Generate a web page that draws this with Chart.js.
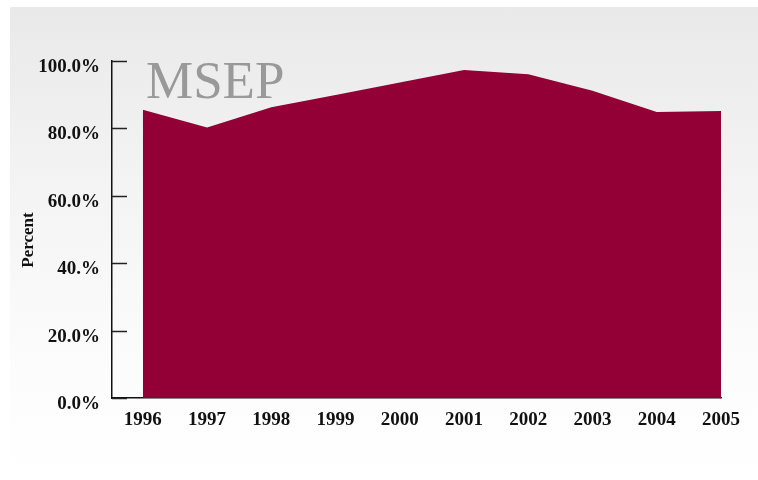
<!DOCTYPE html>
<html>
<head>
<meta charset="utf-8">
<title>MSEP</title>
<script src="https://cdn.jsdelivr.net/npm/chart.js@4/dist/chart.umd.min.js"></script>
<style>
  html, body { margin: 0; padding: 0; background: #fff; }
  #wrap {
    position: relative;
    width: 758px;
    height: 480px;
  }
  #panel {
    position: absolute;
    left: 10px;
    top: 7px;
    right: 0;
    bottom: 0;
    background: linear-gradient(to bottom, #e9e9e9 0%, #f3f3f3 35%, #fcfcfc 75%, #ffffff 100%);
  }
  canvas { position: absolute; left: 0; top: 0; }
</style>
</head>
<body>
<div id="wrap">
  <div id="panel"></div>
  <canvas id="msepChart" width="758" height="480"></canvas>
</div>
<script>
// Yearly percentages for the filled area
let years = [1996, 1997, 1998, 1999, 2000, 2001, 2002, 2003, 2004, 2005];
let percent = [85.5, 80.3, 86.3, 89.9, 93.6, 97.3, 96.1, 91.2, 84.9, 85.2];
let yTicks = [0, 20, 40, 60, 80, 100];
let yTickLabels = ['0.0%', '20.0%', '40.%', '60.0%', '80.0%', '100.0%'];

Chart.defaults.font.family = '"Liberation Serif", "Times New Roman", serif';
Chart.defaults.font.weight = 'bold';
Chart.defaults.font.size = 19;
Chart.defaults.color = '#111';

// Short tick marks pointing into the plot, the big MSEP label and the axis title
const decorations = {
    id: 'decorations',
    afterDraw(chart) {
        const ctx = chart.ctx;
        const yScale = chart.scales.y;
        const left = chart.chartArea.left;
        ctx.save();
        ctx.strokeStyle = '#222';
        ctx.lineWidth = 1.5;
        yTicks.forEach(v => {
            const y = Math.round(yScale.getPixelForValue(v)) + 0.5;
            ctx.beginPath();
            ctx.moveTo(left, y);
            ctx.lineTo(left + 15, y);
            ctx.stroke();
        });

        ctx.fillStyle = '#999';
        ctx.font = '53px "Liberation Serif", serif';
        ctx.textBaseline = 'alphabetic';
        ctx.textAlign = 'left';
        ctx.fillText('MSEP', 146, 98);

        ctx.translate(29, 240);
        ctx.rotate(-Math.PI / 2);
        ctx.fillStyle = '#111';
        ctx.font = 'bold 17px "Liberation Serif", serif';
        ctx.textAlign = 'center';
        ctx.textBaseline = 'middle';
        ctx.fillText('Percent', 0, 0);
        ctx.restore();
    }
};

const ctx = document.getElementById('msepChart').getContext('2d');
new Chart(ctx, {
    type: 'line',
    data: {
        datasets: [{
            label: 'MSEP',
            data: years.map((yr, i) => ({ x: yr, y: percent[i] })),
            backgroundColor: '#930035',
            borderWidth: 0,
            pointRadius: 0,
            tension: 0,
            fill: 'origin'
        }]
    },
    options: {
        responsive: false,
        animation: false,
        events: [],
        layout: {
            padding: { left: 0, top: 61, right: 37, bottom: 0 }
        },
        plugins: {
            legend: { display: false },
            tooltip: { enabled: false }
        },
        scales: {
            x: {
                type: 'linear',
                min: 1995.52,
                max: 2005,
                afterBuildTicks: axis => {
                    axis.ticks = years.map(v => ({ value: v }));
                },
                afterFit: scale => {
                    scale.height = 82;
                },
                grid: { display: false, drawTicks: false },
                border: { display: true, color: '#111', width: 1.5 },
                ticks: {
                    padding: 11,
                    callback: v => String(v)
                }
            },
            y: {
                min: 0,
                max: 100,
                afterBuildTicks: axis => {
                    axis.ticks = yTicks.map(v => ({ value: v }));
                },
                afterFit: scale => {
                    scale.width = 112;
                },
                grid: { display: false, drawTicks: false },
                border: { display: true, color: '#111', width: 1.5 },
                ticks: {
                    padding: 12,
                    labelOffset: 6,
                    callback: v => yTickLabels[yTicks.indexOf(v)]
                }
            }
        }
    },
    plugins: [decorations]
});
</script>
</body>
</html>
